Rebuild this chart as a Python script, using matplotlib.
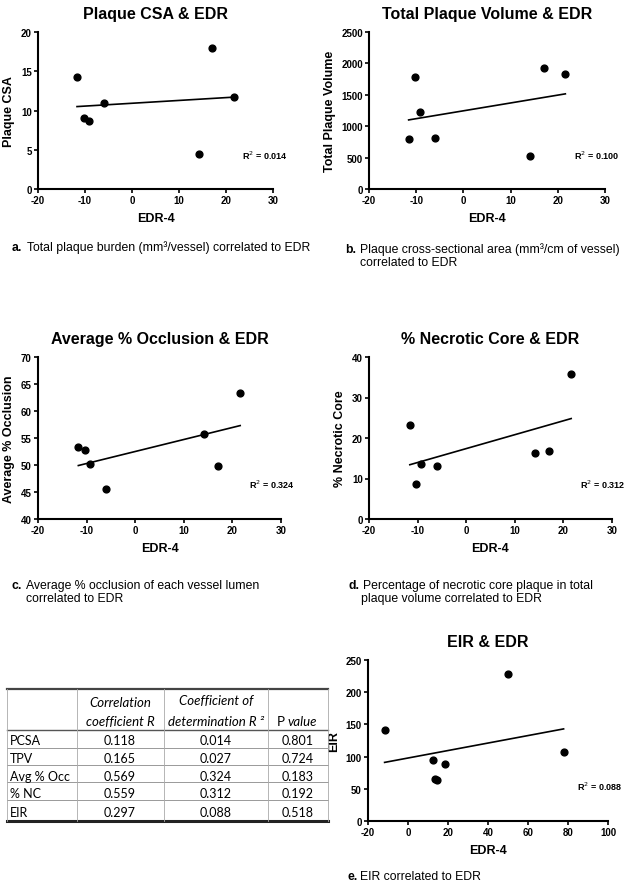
import matplotlib
matplotlib.use("Agg")
import matplotlib.pyplot as plt
from matplotlib.lines import Line2D

W, H = 629, 887

# --- data ---
csa_x = [-11.7, -10.3, -9.2, -6.0, 14.2, 17.0, 21.6]
csa_y = [14.3, 9.0, 8.7, 10.9, 4.4, 18.0, 11.7]
csa_fit = [10.5, 11.7]

tpv_x = [-11.6, -10.3, -9.2, -6.0, 14.2, 17.0, 21.6]
tpv_y = [800, 1780, 1230, 810, 520, 1930, 1830]
tpv_fit = [1100, 1515]

occ_x = [-11.7, -10.4, -9.2, -6.0, 14.2, 17.0, 21.6]
occ_y = [53.3, 52.7, 50.1, 45.6, 55.8, 49.8, 63.4]
occ_fit = [49.9, 57.3]

nc_x = [-11.6, -10.3, -9.2, -6.0, 14.2, 17.0, 21.6]
nc_y = [23.3, 8.6, 13.6, 13.1, 16.3, 16.7, 35.7]
nc_fit = [13.4, 24.8]

eir_x = [-11.7, 12.5, 13.5, 14.5, 18.5, 50.0, 77.8]
eir_y = [142, 94, 65, 64, 88, 229, 107]
eir_fit = [91, 143]

row_names = ["PCSA", "TPV", "Avg % Occ", "% NC", "EIR"]
corr_r = ["0.118", "0.165", "0.569", "0.559", "0.297"]
coef_r2 = ["0.014", "0.027", "0.324", "0.312", "0.088"]
p_vals = ["0.801", "0.724", "0.183", "0.192", "0.518"]

plt.rcParams["font.family"] = ["Liberation Sans", "DejaVu Sans"]
plt.rcParams["axes.unicode_minus"] = False
fig = plt.figure(figsize=(W / 100, H / 100), dpi=100)
fig.patch.set_facecolor("white")


def px_rect(x0, y0, x1, y1):
    return [x0 / W, 1 - y1 / H, (x1 - x0) / W, (y1 - y0) / H]


def fx(x):
    return x / W


def fy(y):
    return 1 - y / H


def panel(rect, xs, ys, fit, title, ylabel, xlim, xticks, ylim, yticks, r2):
    ax = fig.add_axes(px_rect(*rect))
    ax.scatter(xs, ys, s=24, color="black", zorder=3, clip_on=False)
    ax.plot([min(xs), max(xs)], fit, color="black", lw=1.2)
    ax.set_xlim(*xlim)
    ax.set_ylim(*ylim)
    ax.set_xticks(xticks)
    ax.set_yticks(yticks)
    for s in ["top", "right"]:
        ax.spines[s].set_visible(False)
    for s in ["left", "bottom"]:
        ax.spines[s].set_linewidth(1.5)
    ax.tick_params(width=1.2, length=3, labelsize=7, pad=1.5)
    for lab in ax.get_xticklabels() + ax.get_yticklabels():
        lab.set_fontweight("bold")
    ax.set_title(title, fontsize=11.5, fontweight="bold", pad=10)
    ax.set_xlabel("EDR-4", fontsize=9, fontweight="bold", labelpad=5)
    ax.set_ylabel(ylabel, fontsize=9, fontweight="bold", labelpad=4)
    ax.text(0.87, 0.22, "R$^{2}$ = " + r2, transform=ax.transAxes,
            fontsize=6.5, fontweight="bold", va="center")
    return ax


panel((38, 33, 273, 190), csa_x, csa_y, csa_fit, "Plaque CSA & EDR", "Plaque CSA",
      (-20, 30), range(-20, 31, 10), (0, 20), range(0, 21, 5), "0.014")
panel((369, 33, 605, 190), tpv_x, tpv_y, tpv_fit, "Total Plaque Volume & EDR",
      "Total Plaque Volume", (-20, 30), range(-20, 31, 10), (0, 2500),
      range(0, 2501, 500), "0.100")
panel((38, 358, 281, 520), occ_x, occ_y, occ_fit, "Average % Occlusion & EDR",
      "Average % Occlusion", (-20, 30), range(-20, 31, 10), (40, 70),
      range(40, 71, 5), "0.324")
panel((369, 358, 612, 520), nc_x, nc_y, nc_fit, "% Necrotic Core & EDR",
      "% Necrotic Core", (-20, 30), range(-20, 31, 10), (0, 40),
      range(0, 41, 10), "0.312")
panel((368, 661, 608, 822), eir_x, eir_y, eir_fit, "EIR & EDR", "EIR",
      (-20, 100), range(-20, 101, 20), (0, 250), range(0, 251, 50), "0.088")

# captions
cap = dict(fontsize=8.8, va="center")
fig.text(fx(12), fy(248), "a.", fontweight="bold", **cap)
fig.text(fx(27), fy(248), "Total plaque burden (mm³/vessel) correlated to EDR", **cap)
fig.text(fx(345), fy(250), "b.", fontweight="bold", **cap)
fig.text(fx(360), fy(250), "Plaque cross-sectional area (mm³/cm of vessel)", **cap)
fig.text(fx(360), fy(263), "correlated to EDR", **cap)
fig.text(fx(12), fy(586), "c.", fontweight="bold", **cap)
fig.text(fx(26), fy(586), "Average % occlusion of each vessel lumen", **cap)
fig.text(fx(26), fy(599), "correlated to EDR", **cap)
fig.text(fx(349), fy(586), "d.", fontweight="bold", **cap)
fig.text(fx(363), fy(586), "Percentage of necrotic core plaque in total", **cap)
fig.text(fx(361), fy(599), "plaque volume correlated to EDR", **cap)
fig.text(fx(347), fy(877), "e.", fontweight="bold", **cap)
fig.text(fx(360), fy(877), "EIR correlated to EDR", **cap)

# table
tf = ["Lato", "DejaVu Sans"]
x_left, x_right = 7, 328
col_lines = [77, 164, 268]
row_lines = [731, 749, 766, 783, 801]
y_top, y_bot = 690, 822


def hline(y, lw, color):
    fig.add_artist(Line2D([fx(x_left), fx(x_right)], [fy(y), fy(y)], lw=lw, color=color))


hline(y_top, 1.6, "#444444")
hline(y_bot, 2.2, "#222222")
hline(row_lines[0], 1.0, "#555555")
for y in row_lines[1:]:
    hline(y, 0.7, "#999999")
for x in [x_left] + col_lines + [x_right]:
    fig.add_artist(Line2D([fx(x), fx(x)], [fy(y_top), fy(y_bot)], lw=0.6, color="#aaaaaa"))

tcol = [120, 216, 298]
hdr = dict(family=tf, style="italic", fontsize=9.5, va="center")
fig.text(fx(tcol[0]), fy(703), "Correlation", ha="center", **hdr)
fig.text(fx(tcol[0]), fy(722), "coefficient R", ha="center", **hdr)
fig.text(fx(tcol[1]), fy(701), "Coefficient of", ha="center", **hdr)
fig.text(fx(tcol[1]), fy(722), "determination R ²", ha="center", **hdr)
fig.text(fx(277), fy(722), "P", family=tf, fontsize=9.5, va="center")
fig.text(fx(288), fy(722), "value", **hdr)

row_y = [741, 759, 777, 794, 813]
body = dict(family=tf, fontsize=9, va="center")
for i, name in enumerate(row_names):
    fig.text(fx(10), fy(row_y[i]), name, **body)
    fig.text(fx(tcol[0]), fy(row_y[i]), corr_r[i], ha="center", **body)
    fig.text(fx(tcol[1]), fy(row_y[i]), coef_r2[i], ha="center", **body)
    fig.text(fx(tcol[2]), fy(row_y[i]), p_vals[i], ha="center", **body)

fig.savefig("out.png", dpi=100)
